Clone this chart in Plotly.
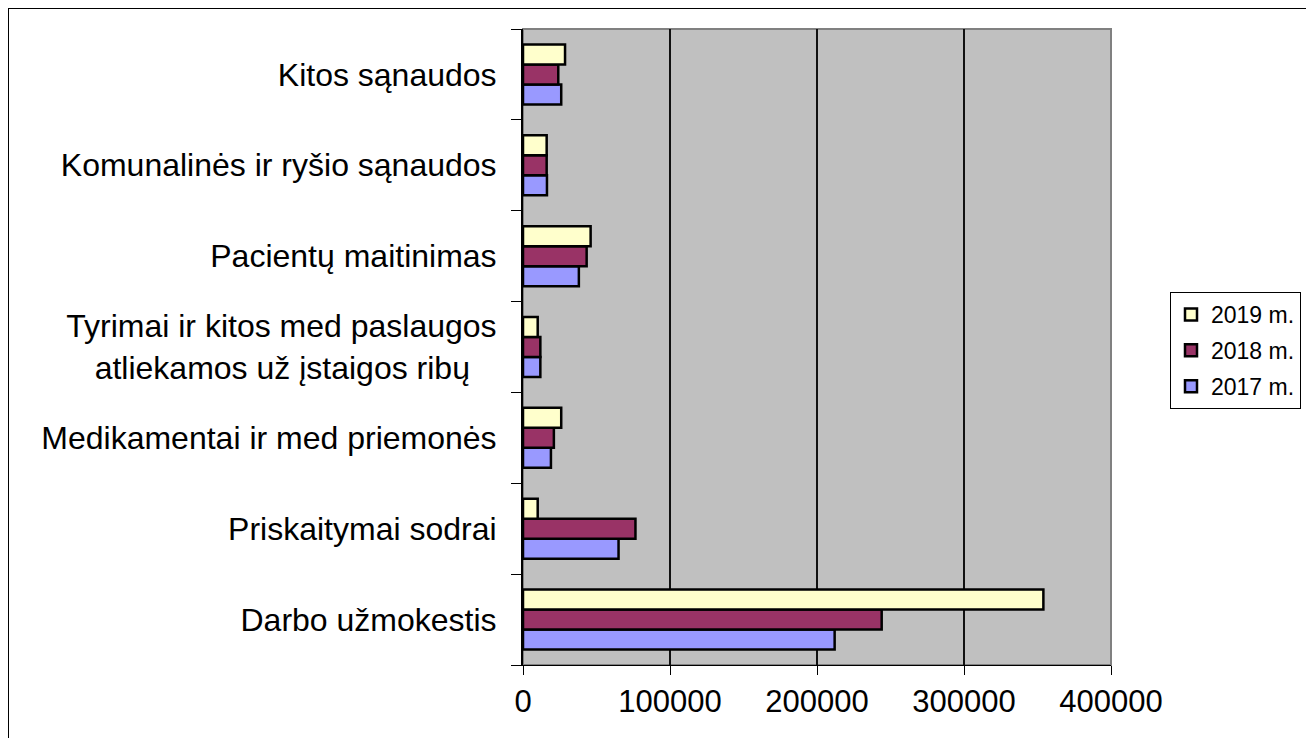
import plotly.graph_objects as go

categories = [
    "Darbo užmokestis",
    "Priskaitymai sodrai",
    "Medikamentai ir med priemonės",
    "Tyrimai ir kitos med paslaugos<br>atliekamos už įstaigos ribų\u00a0\u00a0\u00a0",
    "Pacientų maitinimas",
    "Komunalinės ir ryšio sąnaudos",
    "Kitos sąnaudos",
]
v2017 = [212000, 65000, 19000, 11800, 38000, 16300, 26000]
v2018 = [244000, 76500, 21000, 11800, 43300, 16100, 24000]
v2019 = [354000, 10000, 26000, 10000, 46000, 16100, 28600]
series = [("2017 m.", v2017, "#9999FF", 3), ("2018 m.", v2018, "#993366", 2), ("2019 m.", v2019, "#FFFFCC", 1)]
x_ticks = [0, 100000, 200000, 300000, 400000]

# page body has an 8px margin; figure coordinates are page - 8
W, H = 1306, 730
PL, PR, PT, PB = 515, 1103, 21, 657  # plot area in figure px
PW, PH = PR - PL, PB - PT

fig = go.Figure()
for name, vals, col, rank in series:
    fig.add_trace(go.Bar(
        y=categories, x=vals, name=name, orientation="h", legendgroup=name,
        legendrank=rank,
        marker=dict(color=col, line=dict(color="black", width=2.5)),
    ))

FONT = "Liberation Sans, Arial, sans-serif"
fig.update_layout(
    width=W, height=H,
    margin=dict(l=PL, r=W - PR, t=PT, b=H - PB, autoexpand=False),
    paper_bgcolor="white", plot_bgcolor="#C0C0C0",
    barmode="group", bargap=0.34, bargroupgap=0,
    font=dict(family=FONT, color="black"),
    showlegend=True,
    legend=dict(
        x=(1162 - PL) / PW, y=(PB - 284) / PH, xanchor="left", yanchor="top",
        traceorder="grouped", tracegroupgap=3,
        bordercolor="black", borderwidth=1, itemwidth=30,
        bgcolor="white", font=dict(size=23, family=FONT),
    ),
    xaxis=dict(
        range=[0, 400000], tickvals=x_ticks, ticktext=[str(t) for t in x_ticks],
        showgrid=True, gridcolor="#111111", gridwidth=1.5,
        zeroline=False, showline=True, linecolor="black", linewidth=1,
        ticks="outside", ticklen=9, tickcolor="black",
        tickfont=dict(size=31, family=FONT), fixedrange=True,
    ),
    yaxis=dict(
        type="category", categoryorder="array", categoryarray=categories,
        showline=True, linecolor="black", linewidth=2,
        ticks="outside", ticklen=10, tickcolor="black", tickson="boundaries",
        tickfont=dict(size=32, family=FONT), showgrid=False, fixedrange=True,
        ticklabelstandoff=18,
    ),
    shapes=[
        dict(type="rect", xref="paper", yref="paper", x0=0, x1=1, y0=0, y1=1,
             line=dict(color="#808080", width=2), layer="below"),
        dict(type="rect", xref="paper", yref="paper",
             x0=(0 - PL) / PW, x1=(1301 - PL) / PW,
             y0=(PB - 760) / PH, y1=(PB - 0) / PH,
             line=dict(color="black", width=2), fillcolor="rgba(0,0,0,0)", layer="above"),
    ],
)

fig.write_html("out.html")
